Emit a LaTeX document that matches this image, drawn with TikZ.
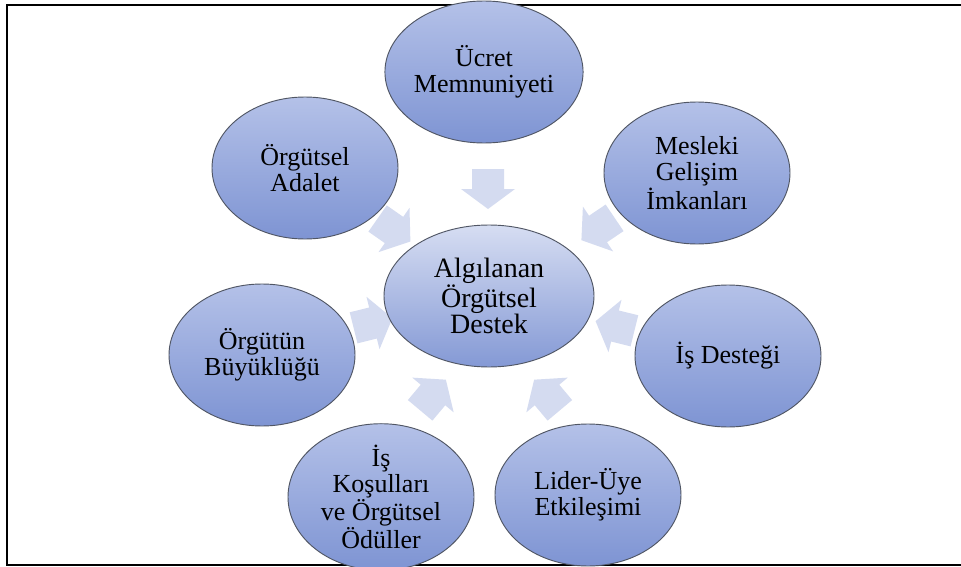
\documentclass[tikz,border=0pt]{standalone}
\usepackage{fontspec}
\setmainfont{Liberation Serif}
\usetikzlibrary{shapes.geometric}
\definecolor{arrowfill}{RGB}{212,219,240}
\definecolor{satTop}{RGB}{180,193,232}
\definecolor{satBot}{RGB}{126,148,211}
\definecolor{hubTop}{RGB}{214,221,242}
\definecolor{hubBot}{RGB}{132,153,213}
\definecolor{edgecol}{RGB}{80,86,100}
\newcommand\inarrow[3]{\begin{scope}[shift={(#1,#2)},rotate=#3]
\fill[flow] (-20,-16) -- (0,-16) -- (0,-27) -- (20,0) -- (0,27) -- (0,16) -- (-20,16) -- cycle;
\end{scope}}
\begin{document}
\begin{tikzpicture}[x=0.75pt,y=-0.75pt,
 sat/.style={ellipse, draw=edgecol, line width=0.7pt, top color=satTop, bottom color=satBot,
   minimum width=139.5pt, minimum height=106.5pt, inner sep=0pt, align=center,
   font=\fontsize{19.5}{19.5}\selectfont},
 hub/.style={sat, top color=hubTop, bottom color=hubBot, minimum width=157.5pt,
   minimum height=106.5pt, font=\fontsize{21}{19.2}\selectfont},
 flow/.style={fill=arrowfill}]
\useasboundingbox (0,0) rectangle (961,567);
\fill[white] (0,0) rectangle (961,567);
\draw[line width=1.5pt] (7,5) rectangle (975,565);
% arrows
\inarrow{488}{189}{-90}
\inarrow{394}{230}{-35}
\inarrow{598}{229}{-146}
\inarrow{615}{326}{166}
\inarrow{547}{395}{130}
\inarrow{433}{395}{50}
\inarrow{373}{323}{14}
% nodes
\node[hub] (hub) at (489,296) {Algılanan\\Örgütsel\\Destek};
\node[sat] (s1) at (484,72) {Ücret\\Memnuniyeti};
\node[sat] (s2) at (697,173) {Mesleki\\Gelişim\\İmkanları};
\node[sat] (s3) at (728,356) {İş Desteği};
\node[sat] (s4) at (588,495) {Lider-Üye\\Etkileşimi};
\node[sat] (s5) at (381,497) {İş\\Koşulları\\ve Örgütsel\\Ödüller};
\node[sat] (s6) at (262,355) {Örgütün\\Büyüklüğü};
\node[sat] (s7) at (305,168) {Örgütsel\\Adalet};
\end{tikzpicture}
\end{document}
